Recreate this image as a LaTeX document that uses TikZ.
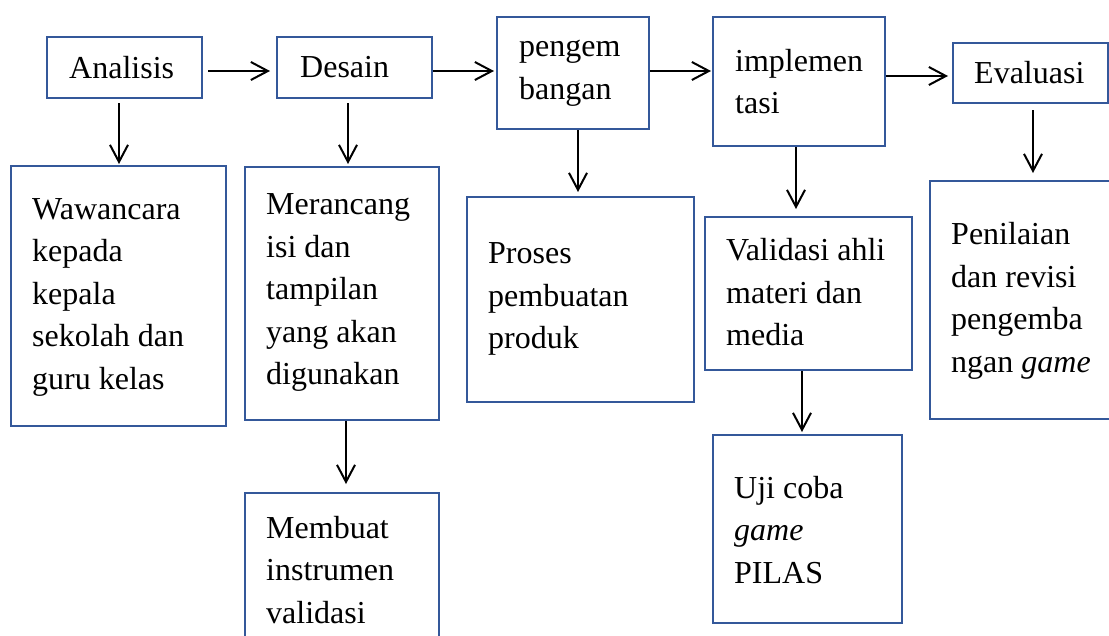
\documentclass[tikz,border=0pt]{standalone}
\usepackage{fontspec}
\setmainfont{Liberation Serif}
\usetikzlibrary{arrows.meta}
\definecolor{boxblue}{RGB}{52,88,154}
\begin{document}
\begin{tikzpicture}[x=1pt,y=-1pt,
  box/.style={draw=boxblue,line width=2pt,inner sep=0pt,fill=none},
  lbl/.style={anchor=west,inner sep=0pt,align=left,font=\fontsize{32}{42.5}\selectfont},
  arr/.style={draw=black,line width=2pt,-{Straight Barb[length=17pt,width=18pt]}}]
\clip (0,0) rectangle (1109,635);
\fill[white] (0,0) rectangle (1109,635);

% boxes
\node[box,minimum width=155pt,minimum height=61pt] (an) at (124.5,67.5) {};
\node[box,minimum width=155pt,minimum height=61pt] (de) at (354.5,67.5) {};
\node[box,minimum width=152pt,minimum height=112pt] (pe) at (573,73) {};
\node[box,minimum width=172pt,minimum height=129pt] (im) at (799,81.5) {};
\node[box,minimum width=155pt,minimum height=60pt] (ev) at (1030.5,73) {};
\node[box,minimum width=215pt,minimum height=260pt] (wa) at (118.5,296) {};
\node[box,minimum width=194pt,minimum height=253pt] (me) at (342,293.5) {};
\node[box,minimum width=227pt,minimum height=205pt] (pr) at (580.5,299.5) {};
\node[box,minimum width=207pt,minimum height=153pt] (va) at (808.5,293.5) {};
\node[box,minimum width=188pt,minimum height=238pt] (pn) at (1024,300) {};
\node[box,minimum width=194pt,minimum height=162pt] (mb) at (342,574) {};
\node[box,minimum width=189pt,minimum height=188pt] (uj) at (807.5,529) {};

% texts
\node[lbl] (tan) at (69,67.5) {Analisis};
\node[lbl] (tde) at (300,67.5) {Desain};
\node[lbl] (tpe) at (519,73) {pengem\\bangan};
\node[lbl] (tim) at (735,81.5) {implemen\\tasi};
\node[lbl] (tev) at (974,73) {Evaluasi};
\node[lbl] (twa) at (32,297) {Wawancara\\kepada\\kepala\\sekolah dan\\guru kelas};
\node[lbl] (tme) at (266,292.5) {Merancang\\isi dan\\tampilan\\yang akan\\digunakan};
\node[lbl] (tpr) at (488,299) {Proses\\pembuatan\\produk};
\node[lbl] (tva) at (726,292.5) {Validasi ahli\\materi dan\\media};
\node[lbl] (tpn) at (951,301) {Penilaian\\dan revisi\\pengemba\\ngan \textit{game}};
\node[lbl] (tmb) at (266,570) {Membuat\\instrumen\\validasi};
\node[lbl] (tuj) at (734,530) {Uji coba\\\textit{game}\\PILAS};

% horizontal arrows
\draw[arr] ([shift={(5,3.5)}]an.east) -- ([shift={(-6,3.5)}]de.west);
\draw[arr] ([shift={(0,3.5)}]de.east) -- ([shift={(-2,-2)}]pe.west);
\draw[arr] ([shift={(0,-2)}]pe.east) -- ([shift={(-1,-10.5)}]im.west);
\draw[arr] ([shift={(0,-5.5)}]im.east) -- ([shift={(-4,3)}]ev.west);

% vertical arrows
\draw[arr] ([shift={(-5.5,4)}]an.south) -- ([shift={(0.5,-1)}]wa.north);
\draw[arr] ([shift={(-6.5,4)}]de.south) -- ([shift={(6,-2)}]me.north);
\draw[arr] ([shift={(5,0)}]pe.south) -- ([shift={(-2.5,-4)}]pr.north);
\draw[arr] ([shift={(-3,0)}]im.south) -- ([shift={(-12.5,-7)}]va.north);
\draw[arr] ([shift={(2.5,6)}]ev.south) -- ([shift={(9,-7)}]pn.north);
\draw[arr] ([shift={(4,0)}]me.south) -- ([shift={(4,-8)}]mb.north);
\draw[arr] ([shift={(-6.5,0)}]va.south) -- ([shift={(-5.5,-2)}]uj.north);
\end{tikzpicture}
\end{document}
